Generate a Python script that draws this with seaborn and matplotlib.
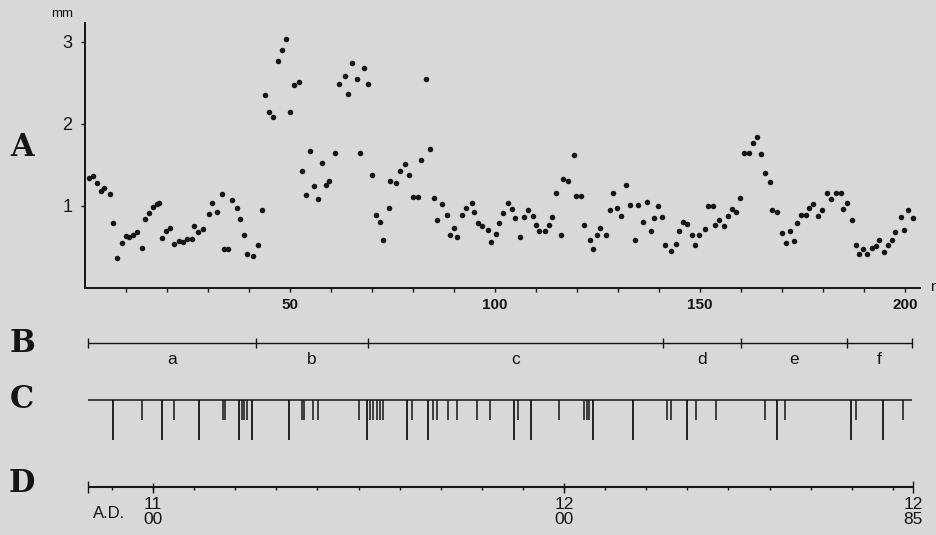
import numpy as np
import pandas as pd
import matplotlib
matplotlib.use("Agg")
import matplotlib.pyplot as plt
import seaborn as sns


# A: ring width (mm) against sample number n
n_sample = [1.0, 2.0, 2.9, 3.8, 4.6, 6.1, 6.9, 7.9, 9.0, 10.0,
            10.8, 11.8, 12.6, 13.8, 14.6, 15.6, 16.7, 17.5, 18.1, 18.7,
            19.8, 20.7, 21.8, 22.9, 24.0, 25.0, 26.0, 26.6, 27.6, 28.7,
            30.3, 30.9, 32.1, 33.3, 33.9, 35.0, 35.9, 37.0, 37.8, 38.9,
            39.6, 40.9, 42.3, 43.1, 44.0, 44.9, 45.8, 47.2,
            48.1, 49.0, 50.0, 51.0, 52.3, 52.9, 53.8, 55.0, 55.9, 56.9,
            57.8, 58.7, 59.6, 61.0, 62.0, 63.4, 64.1, 65.2, 66.3, 67.1,
            68.0, 69.0, 69.9, 70.9, 72.0, 72.8, 74.1, 74.4, 75.8, 76.8,
            78.0, 79.0, 79.9, 81.3, 82.0, 83.1, 84.1, 85.2, 85.9,
            87.1, 88.2, 89.0, 90.1, 90.8, 92.0, 93.0, 94.3, 95.0, 95.8,
            96.8, 98.3, 99.0, 100.2, 100.9, 101.9, 103.1, 104.1, 105.0, 106.1,
            107.1, 108.0, 109.2, 110.0, 110.8, 112.2, 113.1, 114.0, 115.0, 116.0,
            116.5, 117.9, 119.2, 119.8, 121.1, 121.8, 123.2, 123.9, 124.8, 125.7,
            127.0, 128.0, 128.9, 129.9, 130.7,
            132.0, 132.9, 134.1, 135.0, 136.1, 137.1, 138.1, 138.7, 139.9, 140.7,
            141.6, 142.9, 144.1, 145.0, 145.9, 146.9, 148.0, 148.7, 149.9, 151.3,
            152.0, 153.2, 153.7, 154.7, 155.8, 156.8, 157.9, 158.9, 159.9, 160.7,
            162.0, 162.9, 163.9, 165.0, 166.0, 167.1, 167.5, 168.9, 170.1, 171.0,
            172.0, 172.9, 173.8,
            174.7, 176.0, 176.7, 177.7, 178.7, 179.8, 181.1, 181.9, 183.2, 184.4,
            184.8, 186.0, 187.1, 188.0, 188.9, 189.8, 190.8, 192.0, 192.9, 193.6,
            195.0, 195.8, 196.8, 197.6, 199.0, 199.8, 200.7, 202.0]

width_mm = [1.34, 1.37, 1.28, 1.18, 1.22, 1.14, 0.79, 0.36, 0.55, 0.63,
            0.62, 0.65, 0.68, 0.49, 0.84, 0.92, 0.99, 1.02, 1.04, 0.61,
            0.70, 0.73, 0.54, 0.57, 0.56, 0.60, 0.60, 0.76, 0.68, 0.72,
            0.90, 1.04, 0.93, 1.15, 0.47, 0.47, 1.07, 0.98, 0.84, 0.64,
            0.42, 0.39, 0.53, 0.95, 2.35, 2.14, 2.09, 2.77,
            2.90, 3.03, 2.14, 2.47, 2.51, 1.43, 1.13, 1.67, 1.24, 1.09,
            1.52, 1.25, 1.30, 1.64, 2.49, 2.58, 2.37, 2.74, 2.55, 1.64,
            2.68, 2.49, 1.38, 0.89, 0.80, 0.58, 0.97, 1.30, 1.28, 1.43,
            1.51, 1.38, 1.11, 1.11, 1.56, 2.55, 1.69, 1.10, 0.83,
            1.02, 0.89, 0.64, 0.73, 0.62, 0.89, 0.97, 1.04, 0.93, 0.79,
            0.75, 0.71, 0.56, 0.66, 0.79, 0.91, 1.04, 0.96, 0.85, 0.62,
            0.86, 0.95, 0.88, 0.77, 0.69, 0.69, 0.77, 0.86, 1.16, 0.65,
            1.33, 1.30, 1.62, 1.12, 1.12, 0.77, 0.59, 0.48, 0.64, 0.73,
            0.64, 0.95, 1.16, 0.98, 0.88,
            1.26, 1.01, 0.58, 1.01, 0.81, 1.05, 0.70, 0.85, 1.00, 0.87,
            0.52, 0.45, 0.54, 0.69, 0.81, 0.78, 0.65, 0.53, 0.65, 0.72,
            1.00, 1.00, 0.77, 0.83, 0.76, 0.88, 0.96, 0.93, 1.10, 1.65,
            1.64, 1.77, 1.84, 1.63, 1.40, 1.29, 0.95, 0.93, 0.67, 0.55,
            0.69, 0.57, 0.79,
            0.89, 0.89, 0.98, 1.02, 0.88, 0.95, 1.16, 1.08, 1.16, 1.16,
            0.96, 1.04, 0.83, 0.53, 0.42, 0.47, 0.42, 0.49, 0.51, 0.58,
            0.44, 0.52, 0.59, 0.68, 0.86, 0.71, 0.95, 0.85]

n_ticks = list(range(10, 201, 10))
w_ticks = [1, 2, 3]

# B: periods (years A.D.)
period_edges = [1084.2, 1125.1, 1152.3, 1224.1, 1243.1, 1268.9, 1284.7]
period_names = ["a", "b", "c", "d", "e", "f"]

# C: events, long and short marks (years A.D.)
long_events = [1090.3, 1102.1, 1111.2, 1121.0, 1124.0, 1133.2, 1152.0, 1161.7,
               1167.0, 1187.8, 1191.9, 1207.0, 1216.9, 1229.9, 1251.8, 1269.8,
               1277.5]
short_events = [1097.3, 1105.1, 1117.0, 1117.6, 1121.6, 1122.2, 1122.8, 1136.2,
                1136.8, 1138.9, 1140.2, 1150.2, 1152.8, 1153.6, 1154.4, 1155.2,
                1156.0, 1162.9, 1168.1, 1169.0, 1171.8, 1174.0, 1178.9, 1182.0,
                1188.9, 1198.9, 1204.9, 1205.5, 1206.1, 1225.0, 1226.0, 1232.0,
                1237.0, 1248.9, 1253.8, 1271.0, 1282.6]

# D: time scale
year_start, year_end = 1084.2, 1285
decade_ticks = list(range(1090, 1281, 10))
century_ticks = [1100, 1200]
year_labels = {1100: "11\n00", 1200: "12\n00", 1285: "12\n85"}


W, H = 937, 535
bg = "#d8d8d8"
ink = "#151515"

sns.set_style("white", {"axes.facecolor": bg, "figure.facecolor": bg})
plt.rcParams["font.family"] = ["Liberation Sans", "DejaVu Sans"]

fig = plt.figure(figsize=(W / 100, H / 100), dpi=100)


def box(l, t, r, b):
    return [l / W, 1 - b / H, (r - l) / W, (b - t) / H]


# --- A: scatter of widths
ax = fig.add_axes(box(85, 23, 920, 288))
df = pd.DataFrame({"n": n_sample, "w": width_mm})
sns.scatterplot(data=df, x="n", y="w", ax=ax, color=ink, s=16, linewidth=0)
ax.set_xlim(0, 203.7)
ax.set_ylim(0, 3.23)
ax.set_xlabel("")
ax.set_ylabel("")
for s in ["top", "right"]:
    ax.spines[s].set_visible(False)
for s in ["left", "bottom"]:
    ax.spines[s].set_color(ink)
    ax.spines[s].set_linewidth(1.4)
ax.set_xticks(n_ticks)
ax.set_xticklabels([str(t) if t % 50 == 0 else "" for t in n_ticks],
                   fontweight="bold")
ax.set_yticks(w_ticks)
ax.tick_params(axis="x", bottom=True, direction="out", length=3, width=1,
               pad=4, labelsize=11, colors=ink)
ax.tick_params(axis="y", left=True, direction="out", length=3, width=1,
               pad=6, labelsize=13, colors=ink)
fig.text(62 / W, 1 - 14 / H, "mm", ha="center", va="center", fontsize=9.5, color=ink)
fig.text(930 / W, 1 - 287 / H, "n", ha="left", va="center", fontsize=11, color=ink)


# --- B, C, D strips share one axes in years
def px_to_year(x):
    return 1100 + (x - 153) / 4.11


ax2 = fig.add_axes(box(85, 325, 920, 535))
ax2.set_xlim(px_to_year(85), px_to_year(920))
ax2.set_ylim(535, 325)
ax2.axis("off")

yB, yC, yD = 343, 400, 487

# B
ax2.hlines(yB, period_edges[0], period_edges[-1], color=ink, lw=1)
ax2.vlines(period_edges, yB - 5, yB + 5, color=ink, lw=1)
for name, a, b in zip(period_names, period_edges[:-1], period_edges[1:]):
    ax2.text((a + b) / 2, yB + 17, name, ha="center", va="center",
             fontsize=12.5, color=ink)

# C
ax2.hlines(yC, period_edges[0], period_edges[-1], color=ink, lw=1.1)
ax2.vlines(long_events, yC, yC + 40, color=ink, lw=1.3)
ax2.vlines(short_events, yC, yC + 20, color=ink, lw=1.1)

# D
ax2.hlines(yD, year_start, year_end, color=ink, lw=1.5)
ax2.vlines(decade_ticks, yD, yD + 3, color=ink, lw=1)
ax2.vlines(century_ticks, yD - 4, yD + 6, color=ink, lw=1)
ax2.vlines([year_start, year_end], yD - 6, yD + 6, color=ink, lw=1)
for yr, lab in year_labels.items():
    ax2.text(yr, yD + 25, lab, ha="center", va="center", fontsize=12.5,
             linespacing=0.95, color=ink)
ax2.text(px_to_year(109), yD + 27, "A.D.", ha="center", va="center",
         fontsize=12, color=ink)

# panel letters
for lab, y in [("A", 147), ("B", 343), ("C", 399), ("D", 484)]:
    fig.text(22 / W, 1 - y / H, lab, ha="center", va="center", fontsize=22,
             family="DejaVu Serif", fontweight="heavy", color=ink)

fig.savefig("out.png", dpi=100, facecolor=bg)
